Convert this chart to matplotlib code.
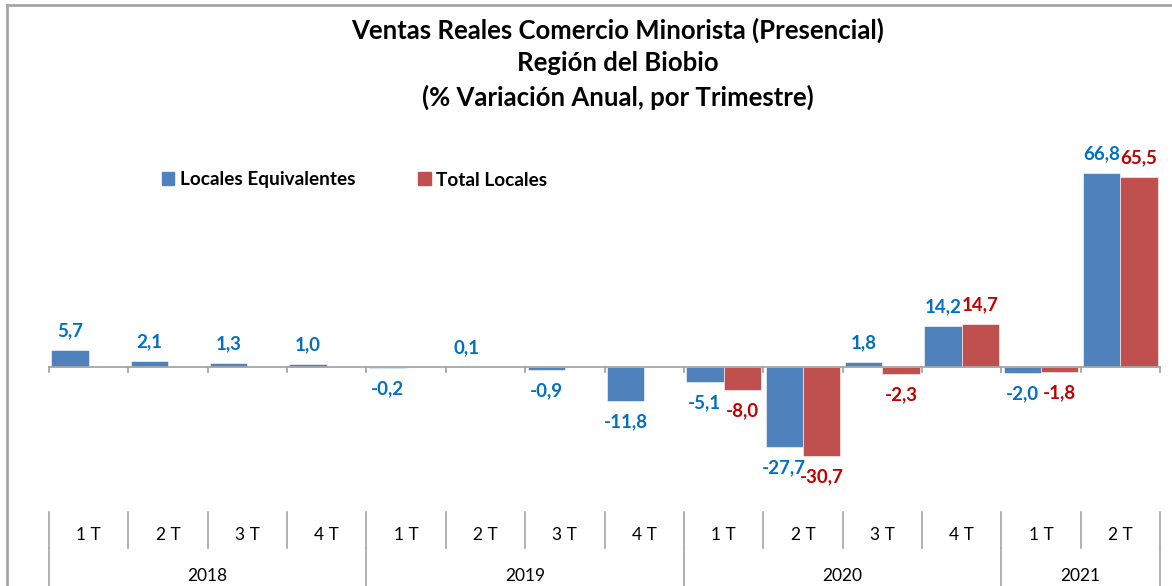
import numpy as np
import matplotlib
matplotlib.use('Agg')
import matplotlib.pyplot as plt
from matplotlib.patches import Patch
from matplotlib.lines import Line2D
from matplotlib.transforms import blended_transform_factory

plt.rcParams['font.family'] = ['Lato', 'DejaVu Sans']

# datos
trimestres = ['1 T', '2 T', '3 T', '4 T', '1 T', '2 T', '3 T', '4 T',
              '1 T', '2 T', '3 T', '4 T', '1 T', '2 T']
anios = ['2018', '2019', '2020', '2021']
trim_por_anio = [4, 4, 4, 2]
locales_equiv = [5.7, 2.1, 1.3, 1.0, -0.2, 0.1, -0.9, -11.8,
                 -5.1, -27.7, 1.8, 14.2, -2.0, 66.8]
total_locales = [np.nan] * 8 + [-8.0, -30.7, -2.3, 14.7, -1.8, 65.5]

azul, rojo = '#4F81BD', '#C0504D'
azul_txt, rojo_txt = '#0070C0', '#C00000'
gris = '#A6A6A6'

W, H = 1172, 586
fig = plt.figure(figsize=(W / 100, H / 100), dpi=100)

# eje: cero en y=367 px, 2.9 px por unidad
y0, esc = 367, 2.9
ymin, ymax = -40, 75
top_px = y0 - ymax * esc
bot_px = y0 - ymin * esc
ax = fig.add_axes([49 / W, (H - bot_px) / H, (1160 - 49) / W, (bot_px - top_px) / H])
ax.set_xlim(-0.5, len(trimestres) - 0.5)
ax.set_ylim(ymin, ymax)
ax.axis('off')

x = np.arange(len(trimestres))
w = 0.47
ax.bar(x - w / 2, locales_equiv, w, color=azul, edgecolor='white', linewidth=0.4)
ax.bar(x + w / 2, total_locales, w, color=rojo, edgecolor='white', linewidth=0.4)


def etiqueta(xi, v, color):
    if np.isnan(v):
        return
    off = 14 if v >= 0 else -15
    ax.annotate(f'{v:.1f}'.replace('.', ','), (xi, v), xytext=(0, off),
                textcoords='offset points', ha='center', va='center',
                fontsize=13.5, fontweight='bold', color=color)


for xi, v in zip(x, locales_equiv):
    etiqueta(xi - w / 2, v, azul_txt)
for xi, v in zip(x, total_locales):
    etiqueta(xi + w / 2, v, rojo_txt)

# linea del cero y ticks
ax.plot([-0.5, len(trimestres) - 0.5], [0, 0], color=gris, lw=1.3, clip_on=False)
tr_px = blended_transform_factory(ax.transData, fig.transFigure)
for b in np.arange(len(trimestres) + 1) - 0.5:
    ax.plot([b, b], [(H - y0) / H, (H - y0 - 5) / H], color=gris, lw=1.3,
            transform=tr_px, clip_on=False)

# eje de categorias en dos niveles
for b in np.arange(len(trimestres) + 1) - 0.5:
    ax.plot([b, b], [(H - 512) / H, (H - 548) / H], color=gris, lw=1.2,
            transform=tr_px, clip_on=False)
for xi, t in zip(x, trimestres):
    ax.text(xi, (H - 535) / H, t, transform=tr_px, ha='center', va='center',
            fontsize=12.5)
inicio = -0.5
for anio, n in zip(anios, trim_por_anio):
    ax.plot([inicio, inicio], [(H - 548) / H, 0], color=gris, lw=1.2,
            transform=tr_px, clip_on=False)
    ax.text(inicio + n / 2, (H - 576) / H, anio, transform=tr_px,
            ha='center', va='center', fontsize=12.5)
    inicio += n
ax.plot([inicio, inicio], [(H - 548) / H, 0], color=gris, lw=1.2,
        transform=tr_px, clip_on=False)

# titulo
fig.text(618 / W, 1 - 30 / H, 'Ventas Reales Comercio Minorista (Presencial)',
         ha='center', va='center', fontsize=18.5, fontweight='bold')
fig.text(618 / W, 1 - 63 / H, 'Región del Biobio',
         ha='center', va='center', fontsize=18.5, fontweight='bold')
fig.text(618 / W, 1 - 97 / H, '(% Variación Anual, por Trimestre)',
         ha='center', va='center', fontsize=18.5, fontweight='bold')

# leyenda
handles = [Patch(color=azul), Patch(color=rojo)]
fig.legend(handles, ['Locales Equivalentes', 'Total Locales'], ncol=2,
           loc='center left', bbox_to_anchor=(162 / W, 1 - 180 / H),
           frameon=False, prop={'weight': 'bold', 'size': 13.7},
           handlelength=0.65, handleheight=0.65, handletextpad=0.3,
           columnspacing=3.3, borderpad=0, borderaxespad=0)

# borde del grafico
fig.add_artist(Line2D([7 / W, 7 / W], [0, 1 - 5 / H], color=gris, lw=2))
fig.add_artist(Line2D([7 / W, 1171 / W], [1 - 5 / H, 1 - 5 / H], color=gris, lw=2))

fig.savefig('out.png', dpi=100)
